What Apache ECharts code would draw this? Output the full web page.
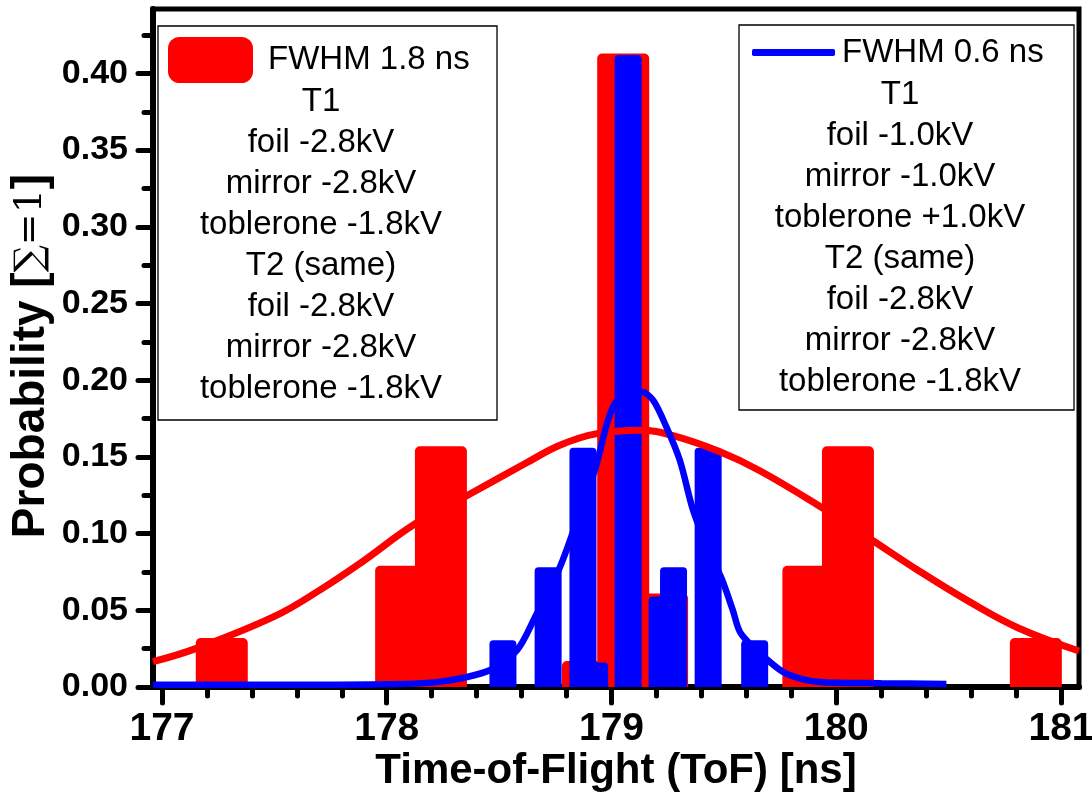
<!DOCTYPE html>
<html>
<head>
<meta charset="utf-8">
<script src="https://cdn.jsdelivr.net/npm/echarts@6/dist/echarts.min.js"></script>
<style>
  html, body { margin: 0; padding: 0; background: #fff; }
  #main { width: 1092px; height: 794px; }
</style>
</head>
<body>
<div id="main"></div>
<script>
// histogram bars (ToF in ns, probability)
var redBarX = [177.266, 178.064, 178.241, 178.895, 179.052, 179.225, 179.876, 180.052, 180.888];
var redBarY = [0.032, 0.079, 0.157, 0.017, 0.413, 0.061, 0.079, 0.157, 0.032];
var blueBarX = [178.517, 178.718, 178.873, 178.925, 179.074, 179.225, 179.276, 179.430, 179.637];
var blueBarY = [0.0305, 0.078, 0.156, 0.016, 0.412, 0.059, 0.078, 0.156, 0.0305];

// fitted curves
var redFitX = [176.96, 177.15, 177.50, 177.70, 177.88, 178.13, 178.36, 178.62, 178.77, 178.93, 179.13, 179.27, 179.48, 179.66, 179.93, 180.16, 180.37, 180.59, 180.81, 181.08];
var redFitY = [0.0165, 0.025, 0.046, 0.063, 0.0805, 0.1067, 0.125, 0.146, 0.1576, 0.165, 0.1674, 0.164, 0.1535, 0.141, 0.1175, 0.0957, 0.0755, 0.0558, 0.0385, 0.0235];
var blueFitX = [176.96, 177.6, 178.0, 178.24, 178.46, 178.58, 178.66, 178.77, 178.85, 178.93, 179.015, 179.133, 179.185, 179.244, 179.304, 179.363, 179.43, 179.49, 179.54, 179.576, 179.696, 179.778, 179.926, 180.2, 180.49];
var blueFitY = [0.0015, 0.0015, 0.0018, 0.0035, 0.011, 0.024, 0.0456, 0.078, 0.11, 0.1435, 0.1848, 0.1924, 0.187, 0.1696, 0.1478, 0.1152, 0.09, 0.0707, 0.05, 0.0348, 0.0174, 0.0087, 0.0033, 0.0025, 0.002];

// ticks
var xMajorTicks = [177, 178, 179, 180, 181];
var xMinorTicks = [177.2, 177.4, 177.6, 177.8, 178.2, 178.4, 178.6, 178.8, 179.2, 179.4, 179.6, 179.8, 180.2, 180.4, 180.6, 180.8];
var yMajorTicks = [0, 0.05, 0.10, 0.15, 0.20, 0.25, 0.30, 0.35, 0.40];
var yMinorTicks = [0.025, 0.075, 0.125, 0.175, 0.225, 0.275, 0.325, 0.375, 0.425];

// legend texts
var redName = 'FWHM 1.8 ns';
var blueName = 'FWHM 0.6 ns';
var redNotes = ['T1', 'foil -2.8kV', 'mirror -2.8kV', 'toblerone -1.8kV', 'T2 (same)', 'foil -2.8kV', 'mirror -2.8kV', 'toblerone -1.8kV'];
var blueNotes = ['T1', 'foil -1.0kV', 'mirror -1.0kV', 'toblerone +1.0kV', 'T2 (same)', 'foil -2.8kV', 'mirror -2.8kV', 'toblerone -1.8kV'];

var FONT = "'Liberation Sans', Arial, sans-serif";
var X_MIN = 176.96, X_MAX = 181.08, Y_MIN = 0, Y_MAX = 0.442;

function zip(xs, ys) {
    return xs.map(function (x, i) { return [x, ys[i]]; });
}

var myChart = echarts.init(document.getElementById('main'));

var tickLine = { color: '#000', width: 5, cap: 'round' };

var option = {
    animation: false,
    backgroundColor: '#fff',
    grid: {
        left: 153, right: 13, top: 9, bottom: 107,
        show: true, borderColor: '#000', borderWidth: 5,
        containLabel: false, outerBoundsMode: 'none'
    },
    legend: [
        {
            data: [redName], left: 163, top: 32, padding: 5,
            icon: 'roundRect', itemWidth: 85, itemHeight: 46,
            selectedMode: false,
            textStyle: { fontFamily: FONT, fontSize: 33, color: '#000', padding: [0, 0, 0, 10] }
        },
        {
            data: [blueName], left: 747, top: 31, padding: 5,
            icon: 'roundRect', itemWidth: 83, itemHeight: 7,
            selectedMode: false,
            textStyle: { fontFamily: FONT, fontSize: 33, color: '#000', padding: [0, 0, 0, 2] }
        }
    ],
    xAxis: [
        {
            type: 'value', min: X_MIN, max: X_MAX, position: 'bottom',
            name: 'Time-of-Flight (ToF) [ns]', nameLocation: 'middle', nameGap: 63,
            nameMoveOverlap: false,
            nameTextStyle: { fontFamily: FONT, fontSize: 42, fontWeight: 'bold', color: '#000' },
            axisLine: { lineStyle: { color: '#000', width: 6 } },
            axisTick: { customValues: xMajorTicks, length: 16, lineStyle: tickLine },
            axisLabel: {
                customValues: xMajorTicks, margin: 23,
                fontFamily: FONT, fontSize: 39, fontWeight: 'bold', color: '#000',
                formatter: function (v) { return String(v); }
            },
            splitLine: { show: false }
        },
        {
            type: 'value', min: X_MIN, max: X_MAX, position: 'bottom',
            axisLine: { show: false },
            axisTick: { customValues: xMinorTicks, length: 9, lineStyle: tickLine },
            axisLabel: { show: false },
            splitLine: { show: false }
        }
    ],
    yAxis: [
        {
            type: 'value', min: Y_MIN, max: Y_MAX, position: 'left',
            name: 'Probability [{s|\u2211=1}]', nameLocation: 'middle', nameGap: 99,
            nameMoveOverlap: false,
            nameTextStyle: {
                fontFamily: FONT, fontSize: 46, fontWeight: 'bold', color: '#000', padding: [0, 16, 0, 0],
                rich: {
                    s: { fontFamily: "'DejaVu Serif', serif", fontSize: 38, fontWeight: 'normal', color: '#000' }
                }
            },
            axisLine: { lineStyle: { color: '#000', width: 6 } },
            axisTick: { customValues: yMajorTicks, length: 15, lineStyle: tickLine },
            axisLabel: {
                customValues: yMajorTicks, margin: 25,
                fontFamily: FONT, fontSize: 34, fontWeight: 'bold', color: '#000',
                formatter: function (v) { return v.toFixed(2); }
            },
            splitLine: { show: false }
        },
        {
            type: 'value', min: Y_MIN, max: Y_MAX, position: 'left',
            axisLine: { show: false },
            axisTick: { customValues: yMinorTicks, length: 9, lineStyle: tickLine },
            axisLabel: { show: false },
            splitLine: { show: false }
        }
    ],
    graphic: [
        {
            type: 'rect', z: 1,
            shape: { x: 158, y: 26, width: 339, height: 394 },
            style: { fill: '#fff', stroke: '#000', lineWidth: 1.3 }
        },
        {
            type: 'rect', z: 1,
            shape: { x: 739, y: 25, width: 335, height: 385 },
            style: { fill: '#fff', stroke: '#000', lineWidth: 1.3 }
        },
        {
            type: 'text', z: 10, x: 321, y: 81,
            style: {
                text: redNotes.join('\n'), fill: '#000', font: '33px ' + FONT,
                lineHeight: 41, align: 'center', verticalAlign: 'top'
            }
        },
        {
            type: 'text', z: 10, x: 900, y: 74,
            style: {
                text: blueNotes.join('\n'), fill: '#000', font: '33px ' + FONT,
                lineHeight: 41, align: 'center', verticalAlign: 'top'
            }
        }
    ],
    series: [
        {
            name: redName, type: 'bar', xAxisIndex: 0, yAxisIndex: 0,
            barWidth: 52,
            itemStyle: { color: '#ff0000', borderRadius: [5, 5, 0, 0] },
            data: zip(redBarX, redBarY)
        },
        {
            name: 'blue histogram', type: 'bar', xAxisIndex: 1, yAxisIndex: 0,
            barWidth: 27,
            itemStyle: { color: '#0000ff', borderRadius: [4, 4, 0, 0] },
            data: zip(blueBarX, blueBarY)
        },
        {
            name: 'red fit', type: 'line', xAxisIndex: 0, yAxisIndex: 0,
            smooth: 0.4, showSymbol: false,
            itemStyle: { color: '#ff0000' },
            lineStyle: { color: '#ff0000', width: 7 },
            data: zip(redFitX, redFitY)
        },
        {
            name: blueName, type: 'line', xAxisIndex: 0, yAxisIndex: 0,
            smooth: 0.3, showSymbol: false,
            itemStyle: { color: '#0000ff' },
            lineStyle: { color: '#0000ff', width: 6.5 },
            data: zip(blueFitX, blueFitY)
        }
    ]
};

myChart.setOption(option);
</script>
</body>
</html>
